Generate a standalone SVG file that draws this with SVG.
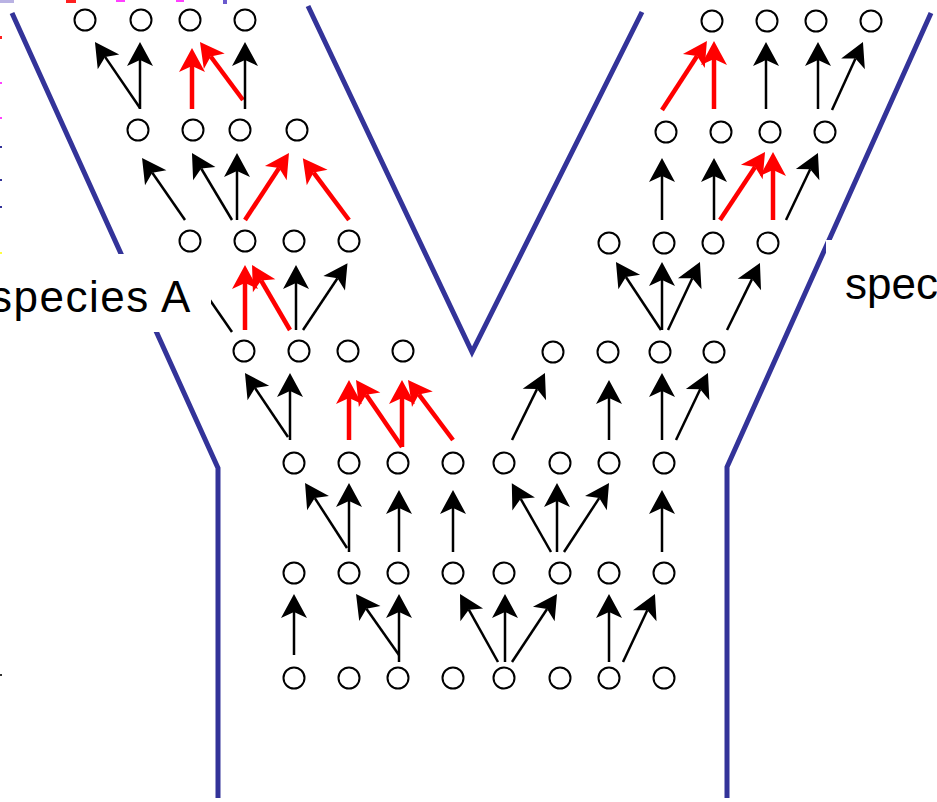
<svg xmlns="http://www.w3.org/2000/svg" width="937" height="802" viewBox="0 0 937 802">
  <style>
    .wall { fill: none; stroke: #333399; stroke-width: 5; }
    .node circle { fill: #fff; stroke: #000; stroke-width: 2; }
    .blk { stroke: #000; stroke-width: 2.5; fill: none; marker-end: url(#head-black); }
    .red { stroke: #ff0000; stroke-width: 4.5; fill: none; marker-end: url(#head-red); }
    .lbl { font-family: "Liberation Sans", Arial, sans-serif; font-size: 44px; fill: #000; letter-spacing: 1.5px; }
    .mask { fill: #fff; }
  </style>
  <defs>
    <!-- notched arrowhead: line ends at the notch, tip lies 18 ahead -->
    <marker id="head-black" markerUnits="userSpaceOnUse" orient="auto" refX="0" refY="0" markerWidth="40" markerHeight="40" overflow="visible">
      <path d="M18,0 L-6,-13 L0,0 L-6,13 Z" fill="#000"/>
    </marker>
    <marker id="head-red" markerUnits="userSpaceOnUse" orient="auto" refX="0" refY="0" markerWidth="40" markerHeight="40" overflow="visible">
      <path d="M18,0 L-6,-13 L0,0 L-6,13 Z" fill="#ff0000"/>
    </marker>
  </defs>

  <rect width="937" height="802" fill="#fff"/>

  <!-- small coloured fragments along the top and left edges -->
  <g id="edge-marks">
    <rect x="0" y="0" width="14" height="3" fill="#8a7fd0" opacity="0.6"/>
    <rect x="66" y="0" width="10" height="3" fill="#ff2020"/>
    <rect x="116" y="0" width="9" height="2" fill="#ff40ff"/>
    <rect x="176" y="0" width="8" height="2" fill="#ff40ff"/>
    <rect x="223" y="0" width="4" height="4" fill="#6a5acd"/>
    <rect x="0" y="36" width="2" height="3" fill="#ff2020"/>
    <rect x="0" y="82" width="2" height="2" fill="#ff40ff"/>
    <rect x="0" y="117" width="2" height="2" fill="#ff40ff"/>
    <rect x="0" y="146" width="2" height="2" fill="#333399"/>
    <rect x="0" y="179" width="2" height="2" fill="#333399"/>
    <rect x="0" y="206" width="2" height="2" fill="#333399"/>
    <rect x="0" y="252" width="2" height="2" fill="#ffff40"/>
    <rect x="0" y="674" width="2" height="2" fill="#333"/>
  </g>

  <!-- Y-shaped boundary -->
  <g id="walls">
    <polyline class="wall" points="12,13 218,468 218,798"/>
    <polyline class="wall" points="931,13 727,467 727,798"/>
    <polyline class="wall" points="308,6 472,352 642,12"/>
  </g>

  <g id="connectors">
    <!-- generation 7 to 6 -->
    <line class="blk" x1="294" y1="655" x2="294" y2="612"/>
    <line class="blk" x1="399" y1="655" x2="366.4" y2="608.7"/>
    <line class="blk" x1="399" y1="662" x2="399" y2="612"/>
    <line class="blk" x1="498" y1="662" x2="468.8" y2="609.7"/>
    <line class="blk" x1="505" y1="662" x2="505" y2="612"/>
    <line class="blk" x1="512" y1="662" x2="547.1" y2="609"/>
    <line class="blk" x1="609" y1="662" x2="609" y2="612"/>
    <line class="blk" x1="623" y1="662" x2="647.3" y2="610.3"/>
    <!-- generation 6 to 5 -->
    <line class="blk" x1="347" y1="548" x2="314.8" y2="498.1"/>
    <line class="blk" x1="349" y1="552" x2="349" y2="501"/>
    <line class="blk" x1="399" y1="552" x2="399" y2="508"/>
    <line class="blk" x1="453" y1="552" x2="453" y2="508"/>
    <line class="blk" x1="551" y1="552" x2="520.7" y2="498.8"/>
    <line class="blk" x1="557" y1="552" x2="557" y2="501"/>
    <line class="blk" x1="564" y1="552" x2="599.2" y2="498.1"/>
    <line class="blk" x1="662" y1="552" x2="662" y2="508"/>
    <!-- generation 5 to 4 -->
    <line class="blk" x1="288" y1="437" x2="255" y2="387.9"/>
    <line class="blk" x1="290" y1="440" x2="290" y2="391"/>
    <line class="red" x1="349" y1="440" x2="349" y2="398"/>
    <line class="red" x1="402" y1="447" x2="366.2" y2="394.8"/>
    <line class="red" x1="402" y1="447" x2="402" y2="398"/>
    <line class="red" x1="453" y1="440" x2="418.8" y2="394.4"/>
    <line class="blk" x1="512" y1="440" x2="537" y2="389.1"/>
    <line class="blk" x1="609" y1="440" x2="609" y2="398"/>
    <line class="blk" x1="662" y1="440" x2="662" y2="391"/>
    <line class="blk" x1="676" y1="440" x2="700.2" y2="389.3"/>
    <!-- generation 4 to 3 -->
    <line class="blk" x1="232" y1="332" x2="195.2" y2="278.8"/>
    <line class="red" x1="245" y1="330" x2="245" y2="283"/>
    <line class="red" x1="290" y1="330" x2="261.1" y2="280.5"/>
    <line class="blk" x1="296" y1="330" x2="296" y2="283"/>
    <line class="blk" x1="303" y1="330" x2="337.5" y2="278.3"/>
    <line class="blk" x1="661" y1="330" x2="625.9" y2="277"/>
    <line class="blk" x1="662" y1="330" x2="662" y2="280"/>
    <line class="blk" x1="668" y1="330" x2="692.3" y2="278.3"/>
    <line class="blk" x1="727" y1="330" x2="752" y2="279.1"/>
    <!-- generation 3 to 2 -->
    <line class="blk" x1="185" y1="220" x2="152.3" y2="172.8"/>
    <line class="blk" x1="232" y1="220" x2="201.2" y2="168.5"/>
    <line class="blk" x1="237" y1="220" x2="237" y2="171"/>
    <line class="red" x1="245" y1="220" x2="279.1" y2="168"/>
    <line class="red" x1="349" y1="220" x2="313.6" y2="172.6"/>
    <line class="blk" x1="662" y1="220" x2="662" y2="176"/>
    <line class="blk" x1="714" y1="220" x2="714" y2="176"/>
    <line class="red" x1="720" y1="220" x2="755.1" y2="167"/>
    <line class="red" x1="773" y1="220" x2="773" y2="170"/>
    <line class="blk" x1="786" y1="220" x2="810.2" y2="169.3"/>
    <!-- generation 2 to 1 -->
    <line class="blk" x1="140" y1="108" x2="105.1" y2="56.9"/>
    <line class="blk" x1="140" y1="109" x2="140" y2="60"/>
    <line class="red" x1="192" y1="109" x2="192" y2="66"/>
    <line class="red" x1="243" y1="100" x2="210.7" y2="56.5"/>
    <line class="blk" x1="245" y1="109" x2="245" y2="60"/>
    <line class="red" x1="662" y1="110" x2="697.1" y2="56"/>
    <line class="red" x1="714" y1="109" x2="714" y2="59"/>
    <line class="blk" x1="766" y1="109" x2="766" y2="60"/>
    <line class="blk" x1="818" y1="109" x2="818" y2="60"/>
    <line class="blk" x1="832" y1="110" x2="855.5" y2="58.4"/>
  </g>

  <!-- branch A, generation 1 (top) to 4 -->
  <g id="a1-1" class="node"><circle cx="85" cy="20" r="10.5"/></g>
  <g id="a1-2" class="node"><circle cx="141" cy="20" r="10.5"/></g>
  <g id="a1-3" class="node"><circle cx="190" cy="20" r="10.5"/></g>
  <g id="a1-4" class="node"><circle cx="245" cy="20" r="10.5"/></g>
  <g id="a2-1" class="node"><circle cx="138" cy="130" r="10.5"/></g>
  <g id="a2-2" class="node"><circle cx="193" cy="130" r="10.5"/></g>
  <g id="a2-3" class="node"><circle cx="240" cy="130" r="10.5"/></g>
  <g id="a2-4" class="node"><circle cx="297" cy="130" r="10.5"/></g>
  <g id="a3-1" class="node"><circle cx="190" cy="241" r="10.5"/></g>
  <g id="a3-2" class="node"><circle cx="245" cy="241" r="10.5"/></g>
  <g id="a3-3" class="node"><circle cx="294" cy="241" r="10.5"/></g>
  <g id="a3-4" class="node"><circle cx="349" cy="241" r="10.5"/></g>
  <g id="a4-1" class="node"><circle cx="244" cy="351" r="10.5"/></g>
  <g id="a4-2" class="node"><circle cx="299" cy="351" r="10.5"/></g>
  <g id="a4-3" class="node"><circle cx="348" cy="351" r="10.5"/></g>
  <g id="a4-4" class="node"><circle cx="403" cy="351" r="10.5"/></g>

  <!-- branch B, generation 1 (top) to 4 -->
  <g id="b1-1" class="node"><circle cx="712" cy="21" r="10.5"/></g>
  <g id="b1-2" class="node"><circle cx="767" cy="21" r="10.5"/></g>
  <g id="b1-3" class="node"><circle cx="816" cy="21" r="10.5"/></g>
  <g id="b1-4" class="node"><circle cx="871" cy="21" r="10.5"/></g>
  <g id="b2-1" class="node"><circle cx="666" cy="132" r="10.5"/></g>
  <g id="b2-2" class="node"><circle cx="721" cy="132" r="10.5"/></g>
  <g id="b2-3" class="node"><circle cx="770" cy="132" r="10.5"/></g>
  <g id="b2-4" class="node"><circle cx="825" cy="132" r="10.5"/></g>
  <g id="b3-1" class="node"><circle cx="609" cy="243" r="10.5"/></g>
  <g id="b3-2" class="node"><circle cx="664" cy="243" r="10.5"/></g>
  <g id="b3-3" class="node"><circle cx="713" cy="243" r="10.5"/></g>
  <g id="b3-4" class="node"><circle cx="768" cy="243" r="10.5"/></g>
  <g id="b4-1" class="node"><circle cx="553" cy="352" r="10.5"/></g>
  <g id="b4-2" class="node"><circle cx="608" cy="352" r="10.5"/></g>
  <g id="b4-3" class="node"><circle cx="660" cy="352" r="10.5"/></g>
  <g id="b4-4" class="node"><circle cx="714" cy="352" r="10.5"/></g>

  <!-- ancestral trunk, generations 5 to 7 -->
  <g id="t5-1" class="node"><circle cx="294" cy="463" r="10.5"/></g>
  <g id="t5-2" class="node"><circle cx="349" cy="463" r="10.5"/></g>
  <g id="t5-3" class="node"><circle cx="398" cy="463" r="10.5"/></g>
  <g id="t5-4" class="node"><circle cx="453" cy="463" r="10.5"/></g>
  <g id="t5-5" class="node"><circle cx="504" cy="463" r="10.5"/></g>
  <g id="t5-6" class="node"><circle cx="560" cy="463" r="10.5"/></g>
  <g id="t5-7" class="node"><circle cx="609" cy="463" r="10.5"/></g>
  <g id="t5-8" class="node"><circle cx="664" cy="463" r="10.5"/></g>
  <g id="t6-1" class="node"><circle cx="294" cy="573" r="10.5"/></g>
  <g id="t6-2" class="node"><circle cx="349" cy="573" r="10.5"/></g>
  <g id="t6-3" class="node"><circle cx="398" cy="573" r="10.5"/></g>
  <g id="t6-4" class="node"><circle cx="453" cy="573" r="10.5"/></g>
  <g id="t6-5" class="node"><circle cx="504" cy="573" r="10.5"/></g>
  <g id="t6-6" class="node"><circle cx="560" cy="573" r="10.5"/></g>
  <g id="t6-7" class="node"><circle cx="609" cy="573" r="10.5"/></g>
  <g id="t6-8" class="node"><circle cx="664" cy="573" r="10.5"/></g>
  <g id="t7-1" class="node"><circle cx="294" cy="678" r="10.5"/></g>
  <g id="t7-2" class="node"><circle cx="349" cy="678" r="10.5"/></g>
  <g id="t7-3" class="node"><circle cx="398" cy="678" r="10.5"/></g>
  <g id="t7-4" class="node"><circle cx="453" cy="678" r="10.5"/></g>
  <g id="t7-5" class="node"><circle cx="504" cy="678" r="10.5"/></g>
  <g id="t7-6" class="node"><circle cx="560" cy="678" r="10.5"/></g>
  <g id="t7-7" class="node"><circle cx="609" cy="678" r="10.5"/></g>
  <g id="t7-8" class="node"><circle cx="664" cy="678" r="10.5"/></g>

  <!-- labels on opaque backgrounds -->
  <g id="label-a">
    <rect class="mask" x="0" y="254" width="211" height="78"/>
    <text class="lbl" x="-10" y="312">species A</text>
  </g>
  <g id="label-b">
    <rect class="mask" x="826" y="240" width="111" height="75"/>
    <text class="lbl" x="845" y="299" style="letter-spacing:0">spec</text>
  </g>
</svg>
